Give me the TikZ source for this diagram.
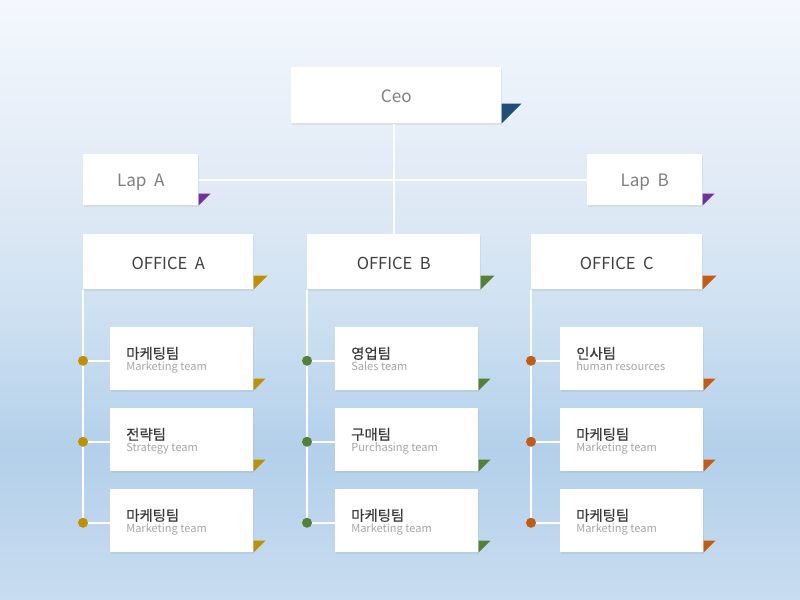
\documentclass[tikz,border=0pt]{standalone}
\usepackage{fontspec}
\setmainfont{Noto Sans CJK KR}
\newfontfamily\krfont[FakeBold=0.5]{Noto Sans CJK KR}
\usetikzlibrary{shadows,calc}
\definecolor{bgA}{HTML}{F4F8FD}
\definecolor{bgB}{HTML}{DFE9F5}
\definecolor{bgC}{HTML}{D0E2F2}
\definecolor{bgD}{HTML}{B3D0EA}
\definecolor{bgE}{HTML}{C8DCF0}
\definecolor{ceoC}{HTML}{1F4E79}
\definecolor{lapC}{HTML}{7030A0}
\definecolor{colA}{HTML}{BF9000}
\definecolor{colB}{HTML}{548235}
\definecolor{colC}{HTML}{C55A11}
\definecolor{greyT}{HTML}{7F7F7F}
\definecolor{darkT}{HTML}{404040}
\definecolor{krT}{HTML}{3A3A3A}
\definecolor{enT}{HTML}{A6A6A6}
\pgfdeclareverticalshading{bgshade}{100bp}{color(0bp)=(bgE); color(25bp)=(bgE); color(37.5bp)=(bgD); color(50bp)=(bgC); color(58.33bp)=(bgB); color(75bp)=(bgA); color(100bp)=(bgA)}
\begin{document}
\begin{tikzpicture}[x=0.75pt,y=-0.75pt,
  box/.style={fill=white, draw=none, anchor=north west, inner sep=0pt,
    drop shadow={opacity=0.12, shadow xshift=0.6pt, shadow yshift=-1.2pt}},
  topbox/.style={box, text=greyT, font=\fontsize{12.8}{14}\selectfont, text depth=0pt},
  offbox/.style={box, text=darkT, font=\fontsize{12.4}{14}\selectfont, minimum height=41.25pt, text height=11.35pt, text depth=0pt},
  teambox/.style={box, minimum width=107.25pt, minimum height=47.25pt},
  kr/.style={anchor=base west, inner sep=0pt, text=krT, font=\krfont\fontsize{10.8}{12}\selectfont},
  en/.style={anchor=base west, inner sep=0pt, text=enT, font=\fontsize{8.3}{9}\selectfont},
  link/.style={draw=white, line width=1.5pt},
  dot/.style={circle, fill=#1, draw=none, inner sep=0pt, minimum size=7.5pt}
]
\useasboundingbox (0,0) rectangle (800,600);
\fill[shading=bgshade] (0,0) rectangle (800,600);

% top level
\node[topbox, minimum width=157.5pt, minimum height=42pt, text height=10.9pt] (ceo) at (291,67) {Ceo};
\node[topbox, minimum width=86.25pt, minimum height=38.25pt, text height=10.15pt] (lapA) at (83,154) {Lap\ \ A};
\node[topbox, minimum width=86.25pt, minimum height=38.25pt, text height=10.15pt] (lapB) at (587,154) {Lap\ \ B};

% offices
\node[offbox, minimum width=127.5pt] (oa) at (83,234) {OFFICE\ \ A};
\node[offbox, minimum width=129.75pt] (ob) at (307,234) {OFFICE\ \ B};
\node[offbox, minimum width=128.25pt] (oc) at (531,234) {OFFICE\ \ C};

% team boxes
\foreach \c/\x in {a/110,b/335,c/560}{
  \node[teambox] (t\c1) at (\x,327) {};
  \node[teambox] (t\c2) at (\x,408) {};
  \node[teambox] (t\c3) at (\x,489) {};
}

% connectors
\draw[link] (lapA.east) -- (lapB.west);
\draw[link] (ceo.south -| ob.north) -- (ob.north);

\foreach \c/\o in {a/oa,b/ob,c/oc}{
  \foreach \i in {1,2,3}{
    \coordinate (d\c\i) at ($(t\c\i.west -| \o.south west)+(0,2)$);
  }
}
\draw[link] (oa.south west) -- (da3);
\draw[link] (ob.south west) -- (db3);
\draw[link] (oc.south west) -- (dc3);
\foreach \c in {a,b,c}{
  \foreach \i in {1,2,3}{
    \draw[link] (d\c\i) -- (d\c\i -| t\c\i.west);
  }
}
\foreach \c/\col in {a/colA,b/colB,c/colC}{
  \foreach \i in {1,2,3}{
    \node[dot=\col] (n\c\i) at (d\c\i) {};
  }
}

% corner flags
\fill[ceoC] (ceo.south east) -- ++(0,-20) -- ++(20,0) -- cycle;
\fill[lapC] (lapA.south east) -- ++(0,-12) -- ++(12,0) -- cycle;
\fill[lapC] (lapB.south east) -- ++(0,-12) -- ++(12,0) -- cycle;
\fill[colA] (oa.south east) -- ++(0,-14) -- ++(14,0) -- cycle;
\fill[colB] (ob.south east) -- ++(0,-14) -- ++(14,0) -- cycle;
\fill[colC] (oc.south east) -- ++(0,-14) -- ++(14,0) -- cycle;
\foreach \c/\col in {a/colA,b/colB,c/colC}{
  \foreach \i in {1,2,3}{
    \fill[\col] (t\c\i.south east) -- ++(0,-12) -- ++(12,0) -- cycle;
  }
}

% team texts
\node[kr] (ka1) at ($(ta1.west)+(16,0)$) {마케팅팀};
\node[en] (ea1) at ($(ta1.west)+(16,12)$) {Marketing team};
\node[kr] (ka2) at ($(ta2.west)+(16,0)$) {전략팀};
\node[en] (ea2) at ($(ta2.west)+(16,12)$) {Strategy team};
\node[kr] (ka3) at ($(ta3.west)+(16,0)$) {마케팅팀};
\node[en] (ea3) at ($(ta3.west)+(16,12)$) {Marketing team};

\node[kr] (kb1) at ($(tb1.west)+(16,0)$) {영업팀};
\node[en] (eb1) at ($(tb1.west)+(16,12)$) {Sales team};
\node[kr] (kb2) at ($(tb2.west)+(16,0)$) {구매팀};
\node[en] (eb2) at ($(tb2.west)+(16,12)$) {Purchasing team};
\node[kr] (kb3) at ($(tb3.west)+(16,0)$) {마케팅팀};
\node[en] (eb3) at ($(tb3.west)+(16,12)$) {Marketing team};

\node[kr] (kc1) at ($(tc1.west)+(16,0)$) {인사팀};
\node[en] (ec1) at ($(tc1.west)+(16,12)$) {human resources};
\node[kr] (kc2) at ($(tc2.west)+(16,0)$) {마케팅팀};
\node[en] (ec2) at ($(tc2.west)+(16,12)$) {Marketing team};
\node[kr] (kc3) at ($(tc3.west)+(16,0)$) {마케팅팀};
\node[en] (ec3) at ($(tc3.west)+(16,12)$) {Marketing team};
\end{tikzpicture}
\end{document}
